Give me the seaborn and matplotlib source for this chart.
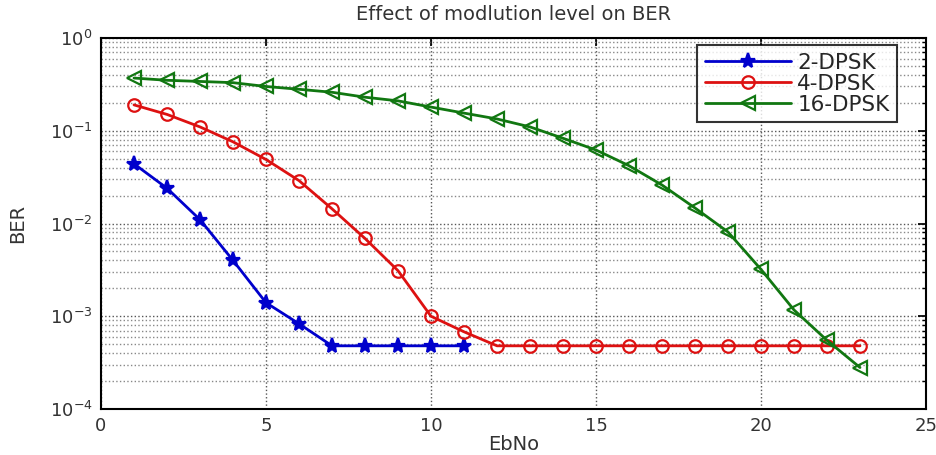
import numpy as np
import pandas as pd
import matplotlib
matplotlib.use("Agg")
import matplotlib.pyplot as plt
import seaborn as sns
from matplotlib.ticker import LogLocator, MultipleLocator

# EbNo values
ebno = list(range(1, 24))

# BER per modulation
ber_2dpsk = [0.044, 0.024, 0.011, 0.0040, 0.0014, 0.00083,
             0.00048, 0.00048, 0.00048, 0.00048, 0.00048]
ber_4dpsk = [0.19, 0.15, 0.11, 0.076, 0.049, 0.029, 0.0144, 0.0069,
             0.0031, 0.0010, 0.00068] + [0.00048] * 12
ber_16dpsk = [0.37, 0.35, 0.34, 0.33, 0.30, 0.28, 0.26, 0.23, 0.21, 0.18,
              0.155, 0.134, 0.11, 0.083, 0.062, 0.042, 0.026, 0.0147,
              0.0081, 0.0032, 0.00117, 0.00055, 0.00028]

labels = ["2-DPSK", "4-DPSK", "16-DPSK"]

sns.set_theme(style="white")
plt.rcParams['font.family'] = ['DejaVu Sans']

fig = plt.figure(figsize=(9.37, 4.55), dpi=100)
ax = fig.add_axes([101 / 937, 1 - 409 / 455, 825 / 937, 371 / 455])

series = [
    (ebno[:len(ber_2dpsk)], ber_2dpsk, labels[0], "#0000cc", "*", "#0000cc", 11),
    (ebno[:len(ber_4dpsk)], ber_4dpsk, labels[1], "#dd1111", "o", "none", 9),
    (ebno[:len(ber_16dpsk)], ber_16dpsk, labels[2], "#117711", "<", "none", 10),
]
for x, y, lab, col, mk, mfc, ms in series:
    sns.lineplot(x=x, y=y, ax=ax, label=lab, color=col, marker=mk,
                 markerfacecolor=mfc, markeredgecolor=col, markersize=ms,
                 markeredgewidth=1.6, linewidth=2)

ax.set_yscale("log")
ax.set_xlim(0, 25)
ax.set_ylim(1e-4, 1e0)
ax.xaxis.set_major_locator(MultipleLocator(5))
ax.yaxis.set_major_locator(LogLocator(base=10, numticks=10))
ax.yaxis.set_minor_locator(LogLocator(base=10, subs=np.arange(2, 10), numticks=20))

ax.grid(True, which="major", axis="both", linestyle=":", color="#555555", linewidth=1)
ax.grid(True, which="minor", axis="y", linestyle=":", color="#888888", linewidth=1)

ax.tick_params(axis="both", which="both", direction="in", top=True, right=True,
               labelsize=13, colors="black", labelcolor="#333333")
ax.tick_params(which="major", length=6, pad=6)
ax.tick_params(which="minor", length=3)
for s in ax.spines.values():
    s.set_color("black")
    s.set_linewidth(1.5)

ax.set_title("Effect of modlution level on BER", fontsize=14, color="#333333", pad=13)
ax.set_xlabel("EbNo", fontsize=14, color="#333333", labelpad=0)
ax.set_ylabel("BER", fontsize=14, color="#333333", labelpad=16)

leg = ax.legend(loc="upper right", bbox_to_anchor=(0.965, 0.981), borderaxespad=0,
                fontsize=15.5, frameon=True, fancybox=False, edgecolor="black",
                handlelength=4.0, handletextpad=0.3, borderpad=0.35, labelspacing=0.05)
leg.get_frame().set_linewidth(1.5)

fig.savefig("out.png", dpi=100)
